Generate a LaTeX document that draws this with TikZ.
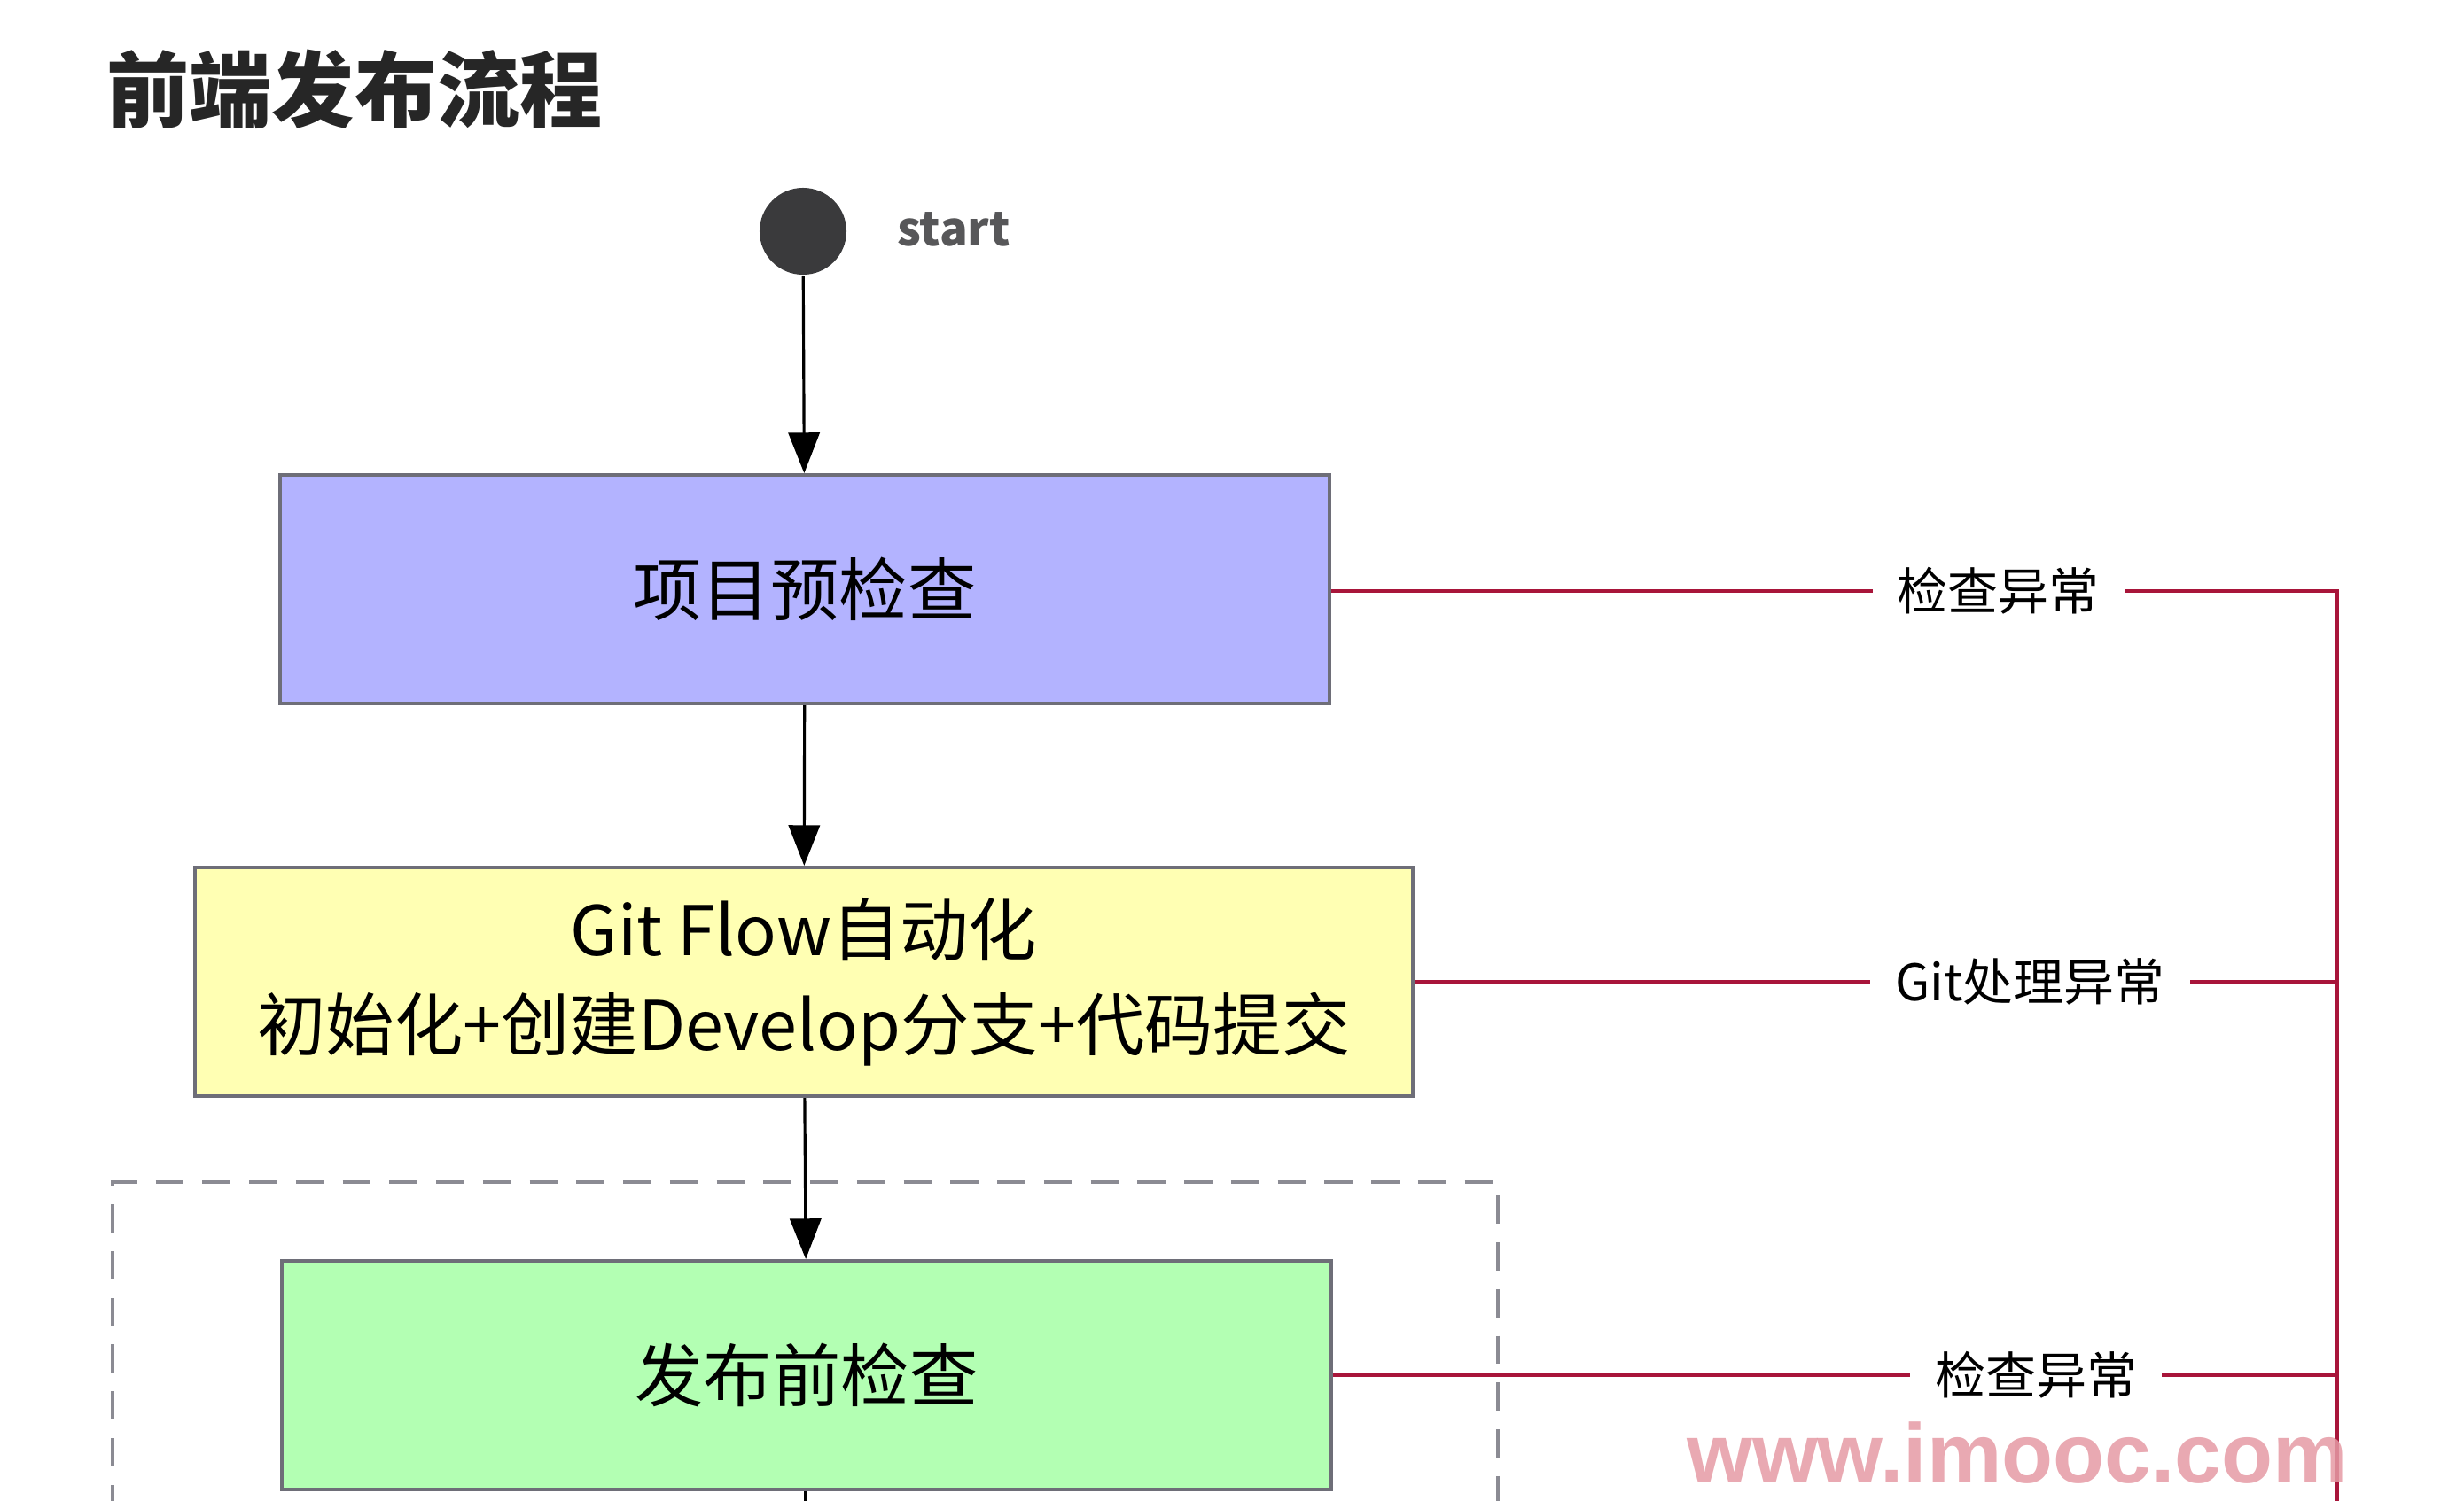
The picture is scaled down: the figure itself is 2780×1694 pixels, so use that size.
\documentclass[tikz,border=0pt]{standalone}
\usepackage{fontspec}
\newfontfamily\cjk{Noto Sans CJK SC}
\newfontfamily\wmfont{Liberation Sans}
\usetikzlibrary{arrows.meta, positioning, calc}
\definecolor{cblue}{HTML}{B3B3FF}
\definecolor{cyellow}{HTML}{FFFFB3}
\definecolor{cgreen}{HTML}{B3FFB3}
\definecolor{cedge}{HTML}{6E6E78}
\definecolor{cred}{HTML}{A8153A}
\definecolor{cdark}{HTML}{3A3A3C}
\definecolor{cpink}{HTML}{E59AA4}
\tikzset{
  every picture/.style={font=\cjk, line width=0.9pt},
  box/.style={draw=cedge, fill=#1, line width=1.1pt, align=center, inner sep=0pt, minimum height=2.58cm, font=\cjk\fontsize{22}{30.4}\selectfont},
  box/.default=cblue,
  arrow/.style={-{Triangle[length=13pt, width=10pt]}, draw=black, line width=0.9pt},
  fail/.style={draw=cred, line width=1.3pt},
  lbl/.style={fill=white, inner xsep=8pt, font=\cjk\fontsize{16.2}{18}\selectfont},
  title/.style={font=\cjk\bfseries\fontsize{26.5}{30}\selectfont, text=black!85},
}
\begin{document}
\begin{tikzpicture}[x=0.01cm, y=-0.01cm]
  \useasboundingbox (0,0) rectangle (2780,1694);
  \clip (0,0) rectangle (2780,1694);
  \node[title] (head) at (400,101) {前端发布流程};
  % flow
  \node[circle, fill=cdark, minimum size=0.98cm, inner sep=0pt] (start) at (906,261) {};
  \node[font=\cjk\bfseries\fontsize{15}{18}\selectfont, text=cdark!85] (startlbl) at (1076,259) {start};
  \node[box=cblue, minimum width=11.84cm] (precheck) at (908,665) {项目预检查};
  \node[box=cyellow, minimum width=13.74cm] (gitflow) at (907,1108) {Git Flow自动化\\初始化+创建Develop分支+代码提交};
  \node[box=cgreen, minimum width=11.84cm] (prepub) at (910,1552) {发布前检查};
  \coordinate (down) at (908,1760);
  \draw[cedge!80, dashed, line width=1pt, dash pattern=on 9pt off 6pt] (127,1760) |- (1690,1334) -- (1690,1760);
  \draw[arrow] (start) -- (precheck);
  \draw[arrow] (precheck) -- (gitflow);
  \draw[arrow] (gitflow) -- (prepub);
  \draw[line width=0.9pt] (prepub) -- (down);
  % error rail
  \coordinate (rail) at (2637,667);
  \coordinate (railend) at (2637,1760);
  \draw[fail] (precheck.east |- rail) -- node[lbl, pos=0.663] (err1) {检查异常} (rail) -- (railend);
  \draw[fail] (gitflow.east) -- node[lbl, pos=0.667] (err2) {Git处理异常} (gitflow.east -| rail);
  \draw[fail] (prepub.east) -- node[lbl, pos=0.70] (err3) {检查异常} (prepub.east -| rail);
  \node[font=\wmfont\bfseries\fontsize{27}{29}\selectfont, text=cpink, opacity=0.85, inner sep=0pt] (mark) at (2276,1640) {www.imooc.com};
\end{tikzpicture}
\end{document}
